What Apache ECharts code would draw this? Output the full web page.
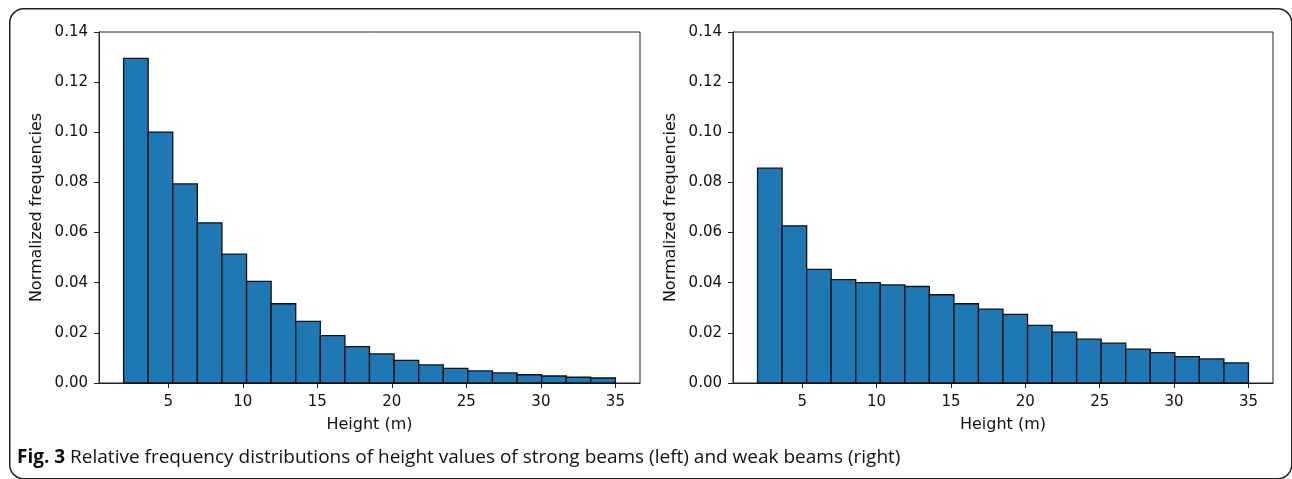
<!DOCTYPE html>
<html>
<head>
<meta charset="utf-8">
<script src="https://cdn.jsdelivr.net/npm/echarts@6/dist/echarts.min.js"></script>
<style>
html,body{margin:0;padding:0;background:#fff;}
#chart{width:1292px;height:479px;}
</style>
</head>
<body>
<div id="chart"></div>
<script>
// Bin edges (Height, m)
const binEdges = [2, 3.65, 5.3, 6.95, 8.6, 10.25, 11.9, 13.55, 15.2, 16.85, 18.5, 20.15, 21.8, 23.45, 25.1, 26.75, 28.4, 30.05, 31.7, 33.35, 35];
// Normalized frequencies, strong beams (left)
const strongBeams = [0.1295, 0.1001, 0.0794, 0.0639, 0.0514, 0.0405, 0.0316, 0.0246, 0.0189, 0.0145, 0.0116, 0.0090, 0.0072, 0.0058, 0.0048, 0.0040, 0.0033, 0.0028, 0.0023, 0.0020];
// Normalized frequencies, weak beams (right)
const weakBeams = [0.0857, 0.0627, 0.0453, 0.0412, 0.0400, 0.0391, 0.0385, 0.0352, 0.0316, 0.0295, 0.0274, 0.0230, 0.0203, 0.0175, 0.0159, 0.0135, 0.0121, 0.0105, 0.0096, 0.0080];
// Tick labels
const xTicks = [5, 10, 15, 20, 25, 30, 35];
const xLabel = 'Height (m)';
const yLabel = 'Normalized frequencies';
const captionBold = 'Fig. 3';
const captionText = ' Relative frequency distributions of height values of strong beams (left) and weak beams (right)';

function histData(vals) {
  return vals.map((v, i) => [binEdges[i], binEdges[i + 1], v]);
}

const tickFont = {fontFamily: 'DejaVu Sans', fontSize: 15, color: '#111'};
const nameFont = {fontFamily: 'DejaVu Sans', fontSize: 16, color: '#111'};

function makeX(gi) {
  return {
    type: 'value', gridIndex: gi, min: 0.35, max: 36.65,
    name: xLabel, nameLocation: 'middle', nameGap: 34,
    nameTextStyle: nameFont,
    axisLine: {show: true, onZero: false, lineStyle: {color: '#222', width: 1}},
    axisTick: {show: true, length: 5, customValues: xTicks, lineStyle: {color: '#222'}},
    axisLabel: Object.assign({customValues: xTicks, margin: 12}, tickFont),
    splitLine: {show: false}
  };
}
function makeY(gi) {
  return {
    type: 'value', gridIndex: gi, min: 0, max: 0.14, interval: 0.02,
    name: yLabel, nameLocation: 'middle', nameGap: 54, nameRotate: 90,
    nameTextStyle: nameFont,
    axisLine: {show: true, lineStyle: {color: '#222', width: 1}},
    axisTick: {show: true, length: 5, lineStyle: {color: '#222'}},
    axisLabel: Object.assign({margin: 11, formatter: v => v.toFixed(2)}, tickFont),
    splitLine: {show: false}
  };
}

function renderBar(params, api) {
  const p0 = api.coord([api.value(0), api.value(2)]);
  const p1 = api.coord([api.value(1), 0]);
  return {
    type: 'rect',
    shape: {x: p0[0], y: p0[1], width: p1[0] - p0[0], height: p1[1] - p0[1]},
    style: {fill: '#1f77b4', stroke: '#111', lineWidth: 1.3}
  };
}

const chart = echarts.init(document.getElementById('chart'), null, {renderer: 'canvas'});
chart.setOption({
  animation: false,
  backgroundColor: '#fff',
  grid: [
    {left: 99, top: 32, width: 541, height: 351, show: true, borderColor: '#222', borderWidth: 1, backgroundColor: 'transparent'},
    {left: 733, top: 32, width: 540, height: 351, show: true, borderColor: '#222', borderWidth: 1, backgroundColor: 'transparent'}
  ],
  xAxis: [makeX(0), makeX(1)],
  yAxis: [makeY(0), makeY(1)],
  series: [
    {type: 'custom', xAxisIndex: 0, yAxisIndex: 0, renderItem: renderBar, data: histData(strongBeams), encode: {x: [0, 1], y: 2}, clip: false},
    {type: 'custom', xAxisIndex: 1, yAxisIndex: 1, renderItem: renderBar, data: histData(weakBeams), encode: {x: [0, 1], y: 2}, clip: false}
  ],
  graphic: [
    {type: 'rect', left: 9, top: 8, z: -1, silent: true,
     shape: {width: 1282, height: 470, r: 14},
     style: {fill: 'transparent', stroke: '#222', lineWidth: 1.5}},
    {type: 'text', left: 17, top: 448, silent: true,
     style: {
       text: '{b|' + captionBold + '}{n|' + captionText + '}',
       rich: {
         b: {fontFamily: 'Open Sans', fontWeight: 'bold', fontSize: 19, fill: '#111'},
         n: {fontFamily: 'Open Sans', fontSize: 19, fill: '#111'}
       }
     }}
  ]
});
</script>
</body>
</html>
